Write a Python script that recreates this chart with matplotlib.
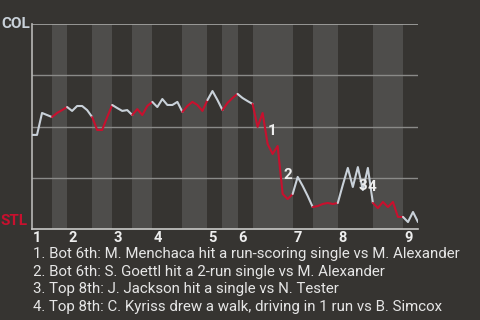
import numpy as np
import matplotlib
matplotlib.use("Agg")
import matplotlib.pyplot as plt

# plays in each half inning (top 1, bot 1, top 2, ...)
plays_per_half = [4, 3, 5, 4, 4, 4, 6, 5, 3, 3, 3, 8, 4, 5, 7, 6, 3]

# COL win probability (%) after each play
col_wp = [45.9, 45.9, 56.6, 55.6, 54.6, 56.6, 58.0, 59.5, 57.6, 60.0,
          60.0, 58.0, 54.6, 48.3, 48.3, 54.6, 60.5, 59.0, 57.6, 58.0,
          55.6, 58.5, 55.6, 60.0, 62.0, 59.5, 63.4, 60.5, 60.5, 62.0,
          57.1, 60.0, 62.0, 60.5, 57.6, 62.9, 67.3, 62.9, 58.0, 61.5,
          63.9, 65.9, 63.9, 62.4, 61.0, 49.8, 56.6, 41.5, 36.6, 40.5,
          17.1, 14.6, 17.1, 25.4, 21.0, 16.1, 10.7, 11.2, 12.2, 12.7,
          12.2, 12.7, 21.5, 29.8, 20.5, 30.2, 19.0, 29.8, 12.7, 10.2,
          13.2, 10.7, 13.2, 5.9, 5.9, 3.4, 8.3, 3.4]

innings = ["1", "2", "3", "4", "5", "6", "7", "8", "9"]

event_plays = [47, 50, 65, 67]
event_labels = ["1", "2", "3", "4"]
event_notes = [
    "1. Bot 6th: M. Menchaca hit a run-scoring single vs M. Alexander",
    "2. Bot 6th: S. Goettl hit a 2-run single vs M. Alexander",
    "3. Top 8th: J. Jackson hit a single vs N. Tester",
    "4. Top 8th: C. Kyriss drew a walk, driving in 1 run vs B. Simcox",
]

bg = "#363431"
band = "#4e4d4b"
red = "#c8102e"
white = "#c9d1d9"

plt.rcParams['font.family'] = ['Roboto', 'DejaVu Sans']

fig = plt.figure(figsize=(4.8, 3.2), dpi=100, facecolor=bg)
ax = fig.add_axes([32 / 480, 91 / 320, 386 / 480, 205 / 320])
ax.set_facecolor(bg)

bounds = np.concatenate([[0], np.cumsum(plays_per_half)])
x = np.arange(len(col_wp))
y = np.array(col_wp)

for h in range(len(plays_per_half)):
    a, b = bounds[h], bounds[h + 1]
    if h % 2 == 1:
        ax.axvspan(a, b, color=band, lw=0, zorder=0)
    ax.plot(x[a:b + 1], y[a:b + 1], color=white if h % 2 == 0 else red,
            lw=1.5, zorder=3, solid_capstyle='round')

for g in [25, 50, 75]:
    ax.axhline(g, color="#8a8a88", lw=1, zorder=1)
ax.axhline(100, color="#a8a8a6", lw=1.2, zorder=1)

ax.set_xlim(0, bounds[-1])
ax.set_ylim(0, 100)
for s in ["top", "right"]:
    ax.spines[s].set_visible(False)
ax.spines["left"].set_color("#b8b8b6")
ax.spines["bottom"].set_color("#c8c8c6")
ax.spines["left"].set_linewidth(1.2)
ax.spines["bottom"].set_linewidth(1.2)
ax.set_xticks([])
ax.set_yticks([])

# inning numbers at the start of each top half
for i, lab in enumerate(innings):
    ax.annotate(lab, (bounds[2 * i], 0), xytext=(1, -2),
                textcoords='offset pixels', ha='left', va='top',
                color="#eeeeee", fontsize=10.5, fontweight='bold',
                annotation_clip=False)

ax.text(-0.005, 1.0, "COL", transform=ax.transAxes, ha='right', va='center',
        color="#c9d1d9", fontsize=11, fontweight='bold')
ax.text(-0.012, 0.04, "STL", transform=ax.transAxes, ha='right', va='center',
        color=red, fontsize=11, fontweight='bold')

offsets = [(4, 13), (5, 19), (5, -19), (4, -19)]
for p, lab, off in zip(event_plays, event_labels, offsets):
    ax.annotate(lab, (x[p], y[p]), xytext=off, textcoords='offset pixels',
                ha='center', va='center', color="#eeeeee", fontsize=11,
                fontweight='bold', zorder=5)

for k, note in enumerate(event_notes):
    fig.text(33 / 480, 1 - (254 + 17.7 * k) / 320, note, ha='left',
             va='center', color="#e6e6e6", fontsize=10.8)

fig.savefig("out.png", dpi=100, facecolor=bg)
